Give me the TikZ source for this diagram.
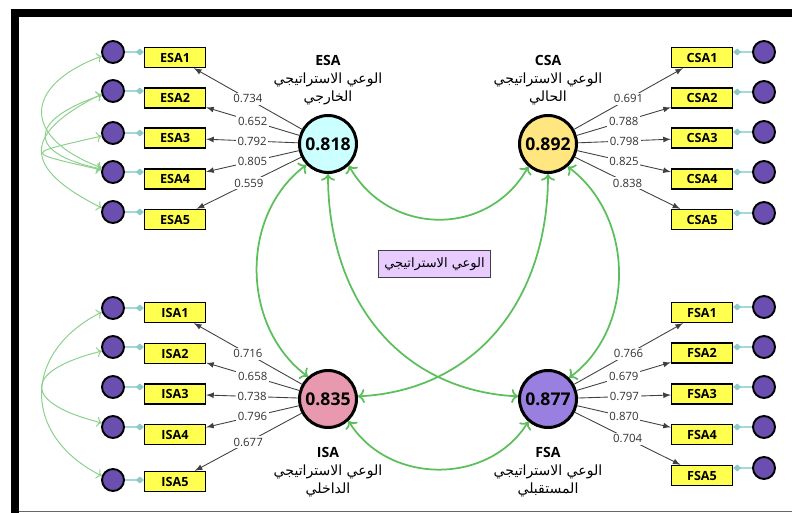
\documentclass[tikz,border=0pt]{standalone}
\usepackage{fontspec}
\setmainfont{Open Sans}
\newfontfamily\arabicfont[Script=Arabic]{DejaVu Sans}
\TeXXeTstate=1
\usepackage{tikz}
\usetikzlibrary{positioning,arrows.meta}

\definecolor{errpurple}{HTML}{6A4FB0}
\definecolor{indyellow}{HTML}{FFFF50}
\definecolor{esacyan}{HTML}{CCFFFF}
\definecolor{csagold}{HTML}{FFE680}
\definecolor{isapink}{HTML}{E899B0}
\definecolor{fsaviolet}{HTML}{9980E0}
\definecolor{stratlilac}{HTML}{E8CCFF}
\definecolor{covgreen}{HTML}{5CBF5C}
\definecolor{ecovgreen}{HTML}{8AD08A}
\definecolor{tealline}{HTML}{A6D8D8}
\definecolor{tealtip}{HTML}{8CCACA}

\begin{document}
\begin{tikzpicture}[x=0.02cm, y=-0.02cm,
    err/.style={circle, draw=black, line width=1.1pt, fill=errpurple, minimum size=0.44cm, inner sep=0pt},
    ind/.style={rectangle, draw=black, line width=0.8pt, fill=indyellow, minimum width=1.22cm, minimum height=0.4cm, inner sep=0pt, font=\bfseries\fontsize{7.2}{8}\selectfont},
    lat/.style={circle, draw=black, line width=1.7pt, minimum size=1.14cm, inner sep=0pt, font=\bfseries\fontsize{10}{12}\selectfont},
    latlab/.style={align=center, inner sep=0pt, font=\fontsize{8}{10.2}\selectfont},
    load/.style={-latex, draw=black!75, line width=0.5pt},
    val/.style={fill=white, inner sep=1pt, font=\fontsize{6.5}{7}\selectfont, text=black!80},
    cov/.style={<->, draw=covgreen, line width=1pt},
    ecov/.style={<->, draw=ecovgreen, line width=0.55pt},
    link/.style={draw=tealline, line width=0.7pt, -{Diamond[length=4.5pt, width=4pt, fill=tealtip, color=tealtip]}}]
  \useasboundingbox (0,0) rectangle (792,513);

  % frame
  \draw[line width=0.16cm] (10.7,13.3) -- (792,13.3);
  \draw[line width=0.16cm] (14.7,9.3) -- (14.7,513);
  \draw[black!60, line width=0.6pt] (18.7,511.7) -- (792,511.7);

  % latent variables
  \node[lat, fill=esacyan] (esa) at (328,144) {0.818};
  \node[lat, fill=csagold] (csa) at (548,144) {0.892};
  \node[lat, fill=isapink] (isa) at (328,399) {0.835};
  \node[lat, fill=fsaviolet] (fsa) at (548,399) {0.877};

  \node[latlab, above=0.18cm of esa] (esalab) {{\bfseries ESA}\\{\arabicfont\beginR الوعي الاستراتيجي\endR}\\{\arabicfont\beginR الخارجي\endR}};
  \node[latlab, above=0.18cm of csa] (csalab) {{\bfseries CSA}\\{\arabicfont\beginR الوعي الاستراتيجي\endR}\\{\arabicfont\beginR الحالي\endR}};
  \node[latlab, below=0.36cm of isa] (isalab) {{\bfseries ISA}\\{\arabicfont\beginR الوعي الاستراتيجي\endR}\\{\arabicfont\beginR الداخلي\endR}};
  \node[latlab, below=0.36cm of fsa] (fsalab) {{\bfseries FSA}\\{\arabicfont\beginR الوعي الاستراتيجي\endR}\\{\arabicfont\beginR المستقبلي\endR}};

  \node[draw=black!75, line width=0.8pt, fill=stratlilac, minimum width=2.22cm, minimum height=0.54cm, font=\fontsize{7.4}{9}\selectfont] (strat) at (434.5,264) {\arabicfont\beginR الوعي الاستراتيجي\endR};

  % ESA indicators
  \node[ind] (esa1) at (175,57.5) {ESA1};
  \node[ind] (esa2) at (175,98) {ESA2};
  \node[ind] (esa3) at (175,138) {ESA3};
  \node[ind] (esa4) at (175,179) {ESA4};
  \node[ind] (esa5) at (175,219.5) {ESA5};
  \node[err] (ee1) at (113,52) {};
  \node[err] (ee2) at (113,91) {};
  \node[err] (ee3) at (113,133) {};
  \node[err] (ee4) at (113,172) {};
  \node[err] (ee5) at (113,212) {};

  % CSA indicators
  \node[ind] (csa1) at (702,57.5) {CSA1};
  \node[ind] (csa2) at (702,98) {CSA2};
  \node[ind] (csa3) at (702,138) {CSA3};
  \node[ind] (csa4) at (702,179) {CSA4};
  \node[ind] (csa5) at (702,219.5) {CSA5};
  \node[err] (ce1) at (764,52) {};
  \node[err] (ce2) at (764,92) {};
  \node[err] (ce3) at (764,132) {};
  \node[err] (ce4) at (764,172) {};
  \node[err] (ce5) at (764,213) {};

  % ISA indicators
  \node[ind] (isa1) at (175,312.5) {ISA1};
  \node[ind] (isa2) at (175,353.5) {ISA2};
  \node[ind] (isa3) at (175,394) {ISA3};
  \node[ind] (isa4) at (175,434.5) {ISA4};
  \node[ind] (isa5) at (175,481.5) {ISA5};
  \node[err] (ie1) at (113,308) {};
  \node[err] (ie2) at (113,347) {};
  \node[err] (ie3) at (113,387) {};
  \node[err] (ie4) at (113,427) {};
  \node[err] (ie5) at (113,480) {};

  % FSA indicators
  \node[ind] (fsa1) at (702,312.5) {FSA1};
  \node[ind] (fsa2) at (702,353) {FSA2};
  \node[ind] (fsa3) at (702,394) {FSA3};
  \node[ind] (fsa4) at (702,434.5) {FSA4};
  \node[ind] (fsa5) at (702,475.5) {FSA5};
  \node[err] (fe1) at (764,307) {};
  \node[err] (fe2) at (764,347) {};
  \node[err] (fe3) at (764,387) {};
  \node[err] (fe4) at (764,427) {};
  \node[err] (fe5) at (764,468) {};

  % error terms to indicators
  \draw[link] (ee1) -- (ee1 -| esa1.west);
  \draw[link] (ee2) -- (ee2 -| esa2.west);
  \draw[link] (ee3) -- (ee3 -| esa3.west);
  \draw[link] (ee4) -- (ee4 -| esa4.west);
  \draw[link] (ee5) -- (ee5 -| esa5.west);
  \draw[link] (ce1) -- (ce1 -| csa1.east);
  \draw[link] (ce2) -- (ce2 -| csa2.east);
  \draw[link] (ce3) -- (ce3 -| csa3.east);
  \draw[link] (ce4) -- (ce4 -| csa4.east);
  \draw[link] (ce5) -- (ce5 -| csa5.east);
  \draw[link] (ie1) -- (ie1 -| isa1.west);
  \draw[link] (ie2) -- (ie2 -| isa2.west);
  \draw[link] (ie3) -- (ie3 -| isa3.west);
  \draw[link] (ie4) -- (ie4 -| isa4.west);
  \draw[link] (ie5) -- (ie5 -| isa5.west);
  \draw[link] (fe1) -- (fe1 -| fsa1.east);
  \draw[link] (fe2) -- (fe2 -| fsa2.east);
  \draw[link] (fe3) -- (fe3 -| fsa3.east);
  \draw[link] (fe4) -- (fe4 -| fsa4.east);
  \draw[link] (fe5) -- (fe5 -| fsa5.east);

  % loadings
  \draw[load] (esa) -- node[val] {0.734} (esa1);
  \draw[load] (esa) -- node[val] {0.652} (esa2);
  \draw[load] (esa) -- node[val] {0.792} (esa3);
  \draw[load] (esa) -- node[val] {0.805} (esa4);
  \draw[load] (esa) -- node[val] {0.559} (esa5);
  \draw[load] (csa) -- node[val] {0.691} (csa1);
  \draw[load] (csa) -- node[val] {0.788} (csa2);
  \draw[load] (csa) -- node[val] {0.798} (csa3);
  \draw[load] (csa) -- node[val] {0.825} (csa4);
  \draw[load] (csa) -- node[val] {0.838} (csa5);
  \draw[load] (isa) -- node[val] {0.716} (isa1);
  \draw[load] (isa) -- node[val] {0.658} (isa2);
  \draw[load] (isa) -- node[val] {0.738} (isa3);
  \draw[load] (isa) -- node[val] {0.796} (isa4);
  \draw[load] (isa) -- node[val] {0.677} (isa5);
  \draw[load] (fsa) -- node[val] {0.766} (fsa1);
  \draw[load] (fsa) -- node[val] {0.679} (fsa2);
  \draw[load] (fsa) -- node[val] {0.797} (fsa3);
  \draw[load] (fsa) -- node[val] {0.870} (fsa4);
  \draw[load] (fsa) -- node[val] {0.704} (fsa5);

  % correlations between latent variables
  \draw[cov] (esa.314) .. controls +(40,71) and +(-40,71) .. (csa.229);
  \draw[cov] (esa.224) .. controls +(-67,50) and +(-67,-50) .. (isa.132);
  \draw[cov] (esa.270) .. controls +(0,126) and +(-118,-6) .. (fsa.175);
  \draw[cov] (csa.270) .. controls +(0,126) and +(118,-6) .. (isa.5);
  \draw[cov] (csa.311) .. controls +(67,50) and +(67,-50) .. (fsa.45);
  \draw[cov] (isa.313) .. controls +(40,64) and +(-40,64) .. (fsa.229);

  % correlated errors
  \draw[ecov] (ee1.200) .. controls +(-80,30) and +(-80,-30) .. (ee4.160);
  \draw[ecov] (ee2.200) .. controls +(-75,25) and +(-75,-15) .. (ee4.165);
  \draw[ecov] (ee3.195) .. controls +(-78,18) and +(-78,-18) .. (ee4.170);
  \draw[ecov] (ee2.195) .. controls +(-80,40) and +(-80,-40) .. (ee5.160);
  \draw[ecov] (ie1.200) .. controls +(-80,40) and +(-80,-40) .. (ie5.160);
  \draw[ecov] (ie2.200) .. controls +(-80,20) and +(-80,-20) .. (ie4.160);
\end{tikzpicture}
\end{document}
